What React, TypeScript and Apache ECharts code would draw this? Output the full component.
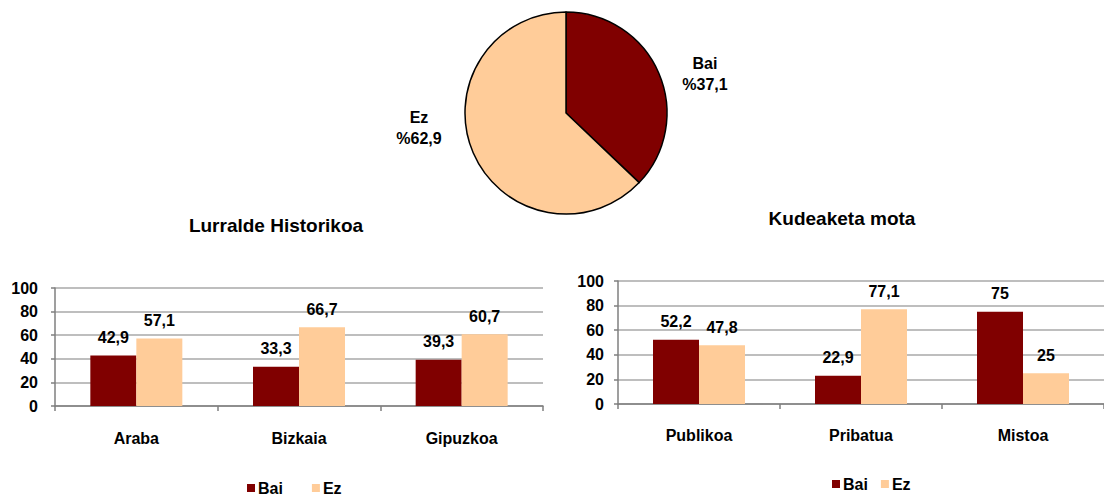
import React, { useEffect, useRef } from "react";
import * as echarts from "echarts";

const seriesNames = ["Bai", "Ez"];
const pieValues = [37.1, 62.9];
const regionTitle = "Lurralde Historikoa";
const regionCategories = ["Araba", "Bizkaia", "Gipuzkoa"];
const regionBai = [42.9, 33.3, 39.3];
const regionEz = [57.1, 66.7, 60.7];
const managementTitle = "Kudeaketa mota";
const managementCategories = ["Publikoa", "Pribatua", "Mistoa"];
const managementBai = [52.2, 22.9, 75];
const managementEz = [47.8, 77.1, 25];

const colors = ["#800000", "#FFCC99"];
const FONT = "'Liberation Sans', Arial, sans-serif";
const fmt = (v: number) => String(v).replace(".", ",");

export default function App() {
  const ref = useRef<HTMLDivElement>(null);
  useEffect(() => {
    document.body.style.margin = "0";
    const chart = echarts.init(ref.current!, undefined, { renderer: "svg" });
    const textBase = { fontFamily: FONT, fontWeight: "bold" as const, color: "#000", fontSize: 16 };

    const makeX = (gridIndex: number, data: string[], margin: number) => ({
      type: "category",
      gridIndex,
      data,
      axisLine: { lineStyle: { color: "#7F7F7F", width: 1.5 } },
      axisTick: { show: true, length: 5, lineStyle: { color: "#7F7F7F", width: 1.5 } },
      axisLabel: { ...textBase, margin },
    });
    const makeY = (gridIndex: number, margin: number) => ({
      type: "value",
      gridIndex,
      min: 0,
      max: 100,
      interval: 20,
      axisLine: { show: true, lineStyle: { color: "#7F7F7F", width: 1.5 } },
      axisTick: { show: true, length: 4, lineStyle: { color: "#7F7F7F", width: 1.5 } },
      axisLabel: { ...textBase, margin },
      splitLine: { show: true, lineStyle: { color: "#BEBEBE", width: 2 } },
    });
    const barLabel = {
      show: true,
      position: "top",
      distance: 10,
      ...textBase,
      formatter: (p: any) => fmt(p.value),
    };
    const makeBar = (name: string, idx: number, data: number[], axisIndex: number) => ({
      type: "bar",
      name,
      xAxisIndex: axisIndex,
      yAxisIndex: axisIndex,
      data,
      barWidth: 46,
      barGap: "0%",
      itemStyle: { color: colors[idx] },
      label: barLabel,
    });

    const pieLabelPos = [
      { x: 705, y: 74 },
      { x: 419, y: 128 },
    ];

    chart.setOption({
      animation: false,
      color: colors,
      title: [
        { text: regionTitle, left: 271, top: 211, textAlign: "center", textStyle: { ...textBase, fontSize: 19 } },
        { text: managementTitle, left: 837, top: 204, textAlign: "center", textStyle: { ...textBase, fontSize: 19 } },
      ],
      legend: [
        {
          data: seriesNames,
          left: 242,
          top: 475,
          icon: "rect",
          itemWidth: 8,
          itemHeight: 8,
          itemGap: 29,
          textStyle: { ...textBase, padding: [0, 0, 0, -2] },
        },
        {
          data: seriesNames,
          left: 827,
          top: 471,
          icon: "rect",
          itemWidth: 8,
          itemHeight: 8,
          itemGap: 13,
          textStyle: { ...textBase, padding: [0, 0, 0, -2] },
        },
      ],
      grid: [
        { left: 55, top: 288, width: 488, height: 118 },
        { left: 618, top: 281, width: 492, height: 123 },
      ],
      xAxis: [makeX(0, regionCategories, 24), makeX(1, managementCategories, 23)],
      yAxis: [makeY(0, 17), makeY(1, 14)],
      series: [
        {
          type: "pie",
          center: [566, 113],
          radius: 101,
          startAngle: 90,
          clockwise: true,
          data: seriesNames.map((n, i) => ({ name: n, value: pieValues[i], itemStyle: { color: colors[i] } })),
          itemStyle: { borderColor: "#000", borderWidth: 1.5 },
          label: {
            show: true,
            ...textBase,
            lineHeight: 21,
            align: "center",
            formatter: (p: any) => `${p.name}\n%${fmt(p.value)}`,
          },
          labelLine: { show: false },
          labelLayout: (params: any) => ({
            x: pieLabelPos[params.dataIndex].x,
            y: pieLabelPos[params.dataIndex].y,
            align: "center",
            verticalAlign: "middle",
          }),
          emphasis: { disabled: true },
        },
        makeBar(seriesNames[0], 0, regionBai, 0),
        makeBar(seriesNames[1], 1, regionEz, 0),
        makeBar(seriesNames[0], 0, managementBai, 1),
        makeBar(seriesNames[1], 1, managementEz, 1),
      ],
    });
    return () => chart.dispose();
  }, []);
  return <div ref={ref} style={{ width: 1104, height: 494 }} />;
}
